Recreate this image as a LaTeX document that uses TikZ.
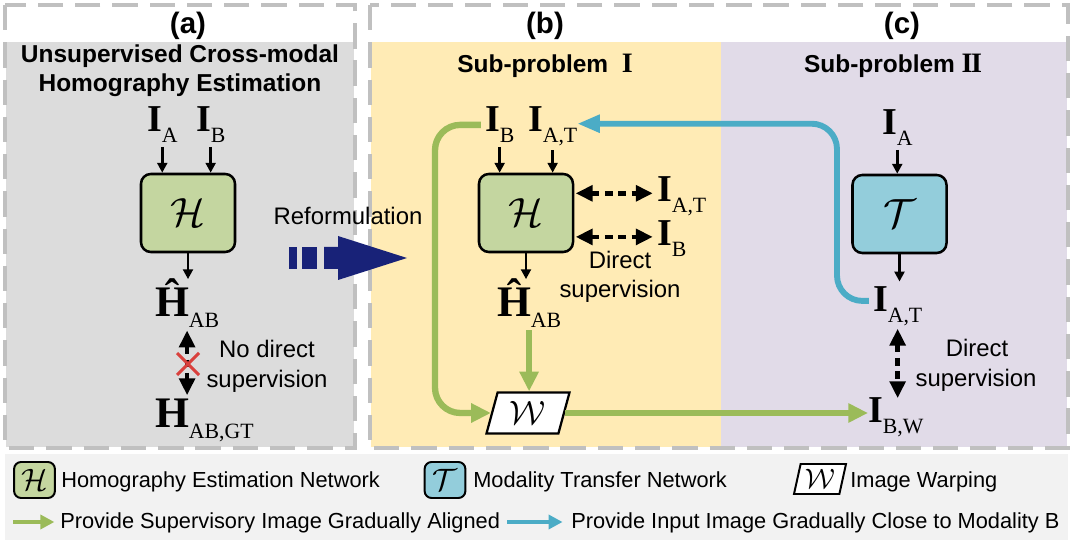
\documentclass[tikz,border=0pt]{standalone}
\usepackage{fontspec}
\setmainfont{Liberation Sans}
\newfontfamily\tnr{Liberation Serif}
\usetikzlibrary{arrows.meta,shapes.geometric,calc}
\definecolor{panelgray}{RGB}{220,220,220}
\definecolor{panelyel}{RGB}{255,235,181}
\definecolor{panelpur}{RGB}{225,219,232}
\definecolor{legbg}{RGB}{242,242,242}
\definecolor{dashgray}{RGB}{192,192,192}
\definecolor{hgreen}{RGB}{196,214,160}
\definecolor{tblue}{RGB}{147,205,219}
\definecolor{agreen}{RGB}{155,187,89}
\definecolor{ablue}{RGB}{75,172,198}
\definecolor{navy}{RGB}{24,34,120}
\definecolor{xred}{RGB}{217,64,60}
\newcommand{\myI}[1]{{\tnr\fontsize{27}{27}\selectfont\bfseries I}\raisebox{-7.5pt}{\tnr\fontsize{15.5}{15.5}\selectfont #1}}
\newcommand{\myH}[2]{{\tnr\fontsize{31}{31}\selectfont\bfseries #1}\raisebox{-7.5pt}{\tnr\fontsize{15.5}{15.5}\selectfont #2}}
\newcommand{\mycal}[2]{\scalebox{#1}{$\mathcal{#2}$}}
\newcommand{\romI}{{\tnr\fontsize{20}{20}\selectfont\bfseries I}}
\newcommand{\romII}{{\tnr\fontsize{20}{20}\selectfont\bfseries I\kern-0.06em I}}
\begin{document}
\begin{tikzpicture}[x=0.025cm,y=-0.025cm,
  panelborder/.style={draw=dashgray,line width=2.8pt,dash pattern=on 18pt off 8.5pt},
  lbl/.style={inner sep=0pt,outer sep=0pt,anchor=base west},
  txt/.style={inner sep=0pt,anchor=base,font=\fontsize{17}{17}\selectfont},
  ttl/.style={inner sep=0pt,anchor=base,font=\fontsize{17.4}{17.4}\selectfont\bfseries},
  hdr/.style={inner sep=0pt,anchor=base,font=\fontsize{21}{21}\selectfont\bfseries},
  legtxt/.style={inner sep=0pt,anchor=base west,font=\fontsize{15.5}{15.5}\selectfont},
  netbox/.style={draw=black,line width=1.8pt,rounded corners=7pt,minimum width=2.35cm,minimum height=1.95cm,inner sep=0pt},
  legbox/.style={draw=black,line width=1.4pt,rounded corners=5pt,minimum width=1.02cm,minimum height=0.9cm,inner sep=0pt},
  warp/.style={draw=black,fill=white,line width=1.6pt,trapezium,trapezium left angle=74,trapezium right angle=106,trapezium stretches=true,inner sep=0pt},
  thinarr/.style={line width=1.8pt,-{Triangle[length=7pt,width=7pt]}},
  dsup/.style={line width=3.2pt,dash pattern=on 5.5pt off 4pt,{Triangle[length=12pt,width=11pt]}-{Triangle[length=12pt,width=11pt]}},
  garr/.style={draw=agreen,line width=4.5pt,-{Triangle[length=14pt,width=13pt]}},
  barr/.style={draw=ablue,line width=4.2pt,-{Triangle[length=16pt,width=12pt]}},
  lgarr/.style={line width=3pt,-{Triangle[length=10pt,width=10pt]}}
]
\useasboundingbox (0,0) rectangle (1074,544);
\fill[white] (0,0) rectangle (1074,544);
% panels
\fill[panelgray] (6,42) rectangle (354,447);
\fill[panelyel] (371,42) rectangle (721,447);
\fill[panelpur] (721,42) rectangle (1067,447);
\draw[panelborder] (5,5) rectangle (355,448);
\draw[panelborder] (370,5) rectangle (1068,448);
\fill[legbg] (5,454) rectangle (1068,540);
% headers
\node[hdr] (la) at (188,34) {(a)};
\node[hdr] (lb) at (545,34) {(b)};
\node[hdr] (lc) at (902,34) {(c)};
\node[ttl] (t1) at (180,63) {Unsupervised Cross-modal};
\node[ttl] (t2) at (180,92) {Homography Estimation};
\node[ttl] (sp1) at (545,73) {Sub-problem\ \ \romI};
\node[ttl] (sp2) at (893,73) {Sub-problem \romII};
% reformulation arrow
\node[txt] (ref) at (348,225) {Reformulation};
\fill[navy] (289,247) rectangle (297,269);
\fill[navy] (302,247) rectangle (317,269);
\fill[navy] (324,247) -- (338,247) -- (338,236) -- (407,258) -- (338,280) -- (338,269) -- (324,269) -- cycle;
% ---------- panel (a)
\node[lbl] (ia) at (147,132) {\myI{A}};
\node[lbl] (ib) at (196,132) {\myI{B}};
\node[netbox,fill=hgreen] (ha) at (188,213) {\mycal{2.9}{H}};
\node[lbl] (hhat) at (155,317) {\myH{\^{H}}{AB}};
\node[lbl] (hgt) at (155,428) {\myH{H}{AB,GT}};
\draw[thinarr] ([yshift=-3pt]ia.south) -- (ia.south |- ha.north);
\draw[thinarr] ([yshift=-3pt]ib.south) -- (ib.south |- ha.north);
\draw[thinarr] (ha.south) -- (ha.south |- hhat.north);
\draw[dsup,shorten <=2pt,shorten >=3pt] (hhat.south) -- (hhat.south |- hgt.north);
\draw[xred,line width=2.2pt] (177,353) -- (199,375) (177,375) -- (199,353);
\node[txt] (nd1) at (267,358) {No direct};
\node[txt] (nd2) at (267,388) {supervision};
% ---------- panel (b)
\node[lbl] (ibb) at (485,132) {\myI{B}};
\node[lbl] (iatb) at (528,132) {\myI{A,T}};
\node[netbox,fill=hgreen] (hb) at (526,213) {\mycal{2.9}{H}};
\node[lbl] (iatr) at (657,202) {\myI{A,T}};
\node[lbl] (ibr) at (657,246) {\myI{B}};
\node[lbl] (hhb) at (497,317) {\myH{\^{H}}{AB}};
\node[warp,minimum width=2.075cm,minimum height=1.025cm] (W) at (528,413) {\mycal{2.4}{W}};
\draw[thinarr] ([yshift=-3pt]ibb.south) -- (ibb.south |- hb.north);
\draw[thinarr] ([yshift=-3pt]iatb.south) -- (iatb.south |- hb.north);
\draw[thinarr] (hb.south) -- (hb.south |- hhb.north);
\draw[dsup,shorten <=1pt,shorten >=3pt] ([yshift=14pt]hb.east) -- ([yshift=14pt]hb.east -| iatr.west);
\draw[dsup,shorten <=1pt,shorten >=3pt] ([yshift=-17pt]hb.east) -- ([yshift=-17pt]hb.east -| ibr.west);
\node[txt] (ds1) at (620,269) {Direct};
\node[txt] (ds2) at (620,298) {supervision};
\draw[garr,shorten <=2pt] (hhb.south) -- (hhb.south |- W.north);
% ---------- panel (c)
\node[lbl] (iac) at (882,135) {\myI{A}};
\node[netbox,fill=tblue] (tb) at (899.5,214) {\mycal{2.9}{T}};
\node[lbl] (iatc) at (873,312) {\myI{A,T}};
\node[lbl] (ibw) at (868,423) {\myI{B,W}};
\draw[thinarr] ([yshift=-3pt]iac.south) -- (iac.south |- tb.north);
\draw[thinarr,shorten >=4pt] (tb.south) -- (tb.south |- iatc.north);
\draw[dsup,shorten <=2pt] (iatc.south) -- (iatc.south |- ibw.north);
\node[txt] (dc1) at (977,357) {Direct};
\node[txt] (dc2) at (976,387) {supervision};
% ---------- long connectors
\draw[garr,rounded corners=18pt,shorten <=3pt] (ibb.west) -| (435,300) |- (W.west);
\draw[garr] (W.east) -- (W.east -| ibw.west);
\draw[barr,rounded corners=18pt,shorten <=3pt] ([yshift=4pt]iatc.west) -| (837,200) |- ([yshift=2pt]iatb.east);
% ---------- legend
\node[legbox,fill=hgreen] (lh) at (34.5,480) {\mycal{2.2}{H}};
\node[legtxt] (lht) at (61,488) {Homography Estimation Network};
\node[legbox,fill=tblue] (lt) at (445,480) {\mycal{2.2}{T}};
\node[legtxt] (ltt) at (473,488) {Modality Transfer Network};
\node[warp,line width=1.4pt,trapezium left angle=75,trapezium right angle=105,minimum width=1.3cm,minimum height=0.75cm] (lw) at (820,479) {\mycal{2.0}{W}};
\node[legtxt] (lwt) at (850,488) {Image Warping};
\coordinate (lg0) at (13,522);
\node[legtxt] (lgt) at (60,528) {Provide Supervisory Image Gradually Aligned};
\draw[lgarr,agreen,shorten >=4pt] (lg0) -- (lg0 -| lgt.west);
\coordinate (lb0) at (507,522);
\node[legtxt] (lbt) at (571,528) {Provide Input Image Gradually Close to Modality B};
\draw[lgarr,ablue,shorten >=6pt] (lb0) -- (lb0 -| lbt.west);
\end{tikzpicture}
\end{document}
